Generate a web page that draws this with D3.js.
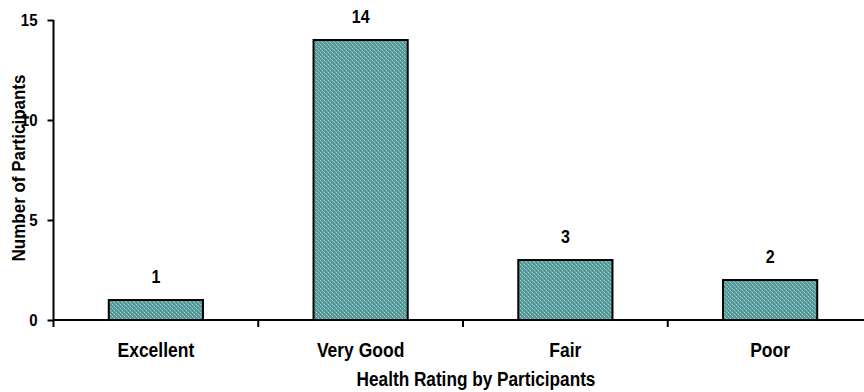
<!DOCTYPE html>
<html>
<head>
<meta charset="utf-8">
<script src="https://cdn.jsdelivr.net/npm/d3@7"></script>
<style>
  html, body { margin: 0; padding: 0; background: #fff; }
  svg { display: block; }
  svg text { font-family: "Liberation Sans", Arial, sans-serif; font-weight: bold; fill: #000; }
</style>
</head>
<body>
<svg id="chart" width="864" height="392"></svg>
<script>
// Health self-ratings and participant counts
const categories = ["Excellent", "Very Good", "Fair", "Poor"];
const counts = [1, 14, 3, 2];
const yTicks = [0, 5, 10, 15];

const svg = d3.select("#chart");
const plotLeft = 53.5, plotRight = 872.5, plotTop = 20, plotBottom = 320;
// Lettering is slightly taller than it is wide
const stretch = 1.13;

// Dithered teal fill for the bars
const defs = svg.append("defs");
const pat = defs.append("pattern")
  .attr("id", "teal").attr("width", 4).attr("height", 4)
  .attr("patternUnits", "userSpaceOnUse");
pat.append("rect").attr("width", 4).attr("height", 4).attr("fill", "#55999a");
pat.append("rect").attr("x", 0).attr("y", 0).attr("width", 1).attr("height", 1).attr("fill", "#a6d0cc");
pat.append("rect").attr("x", 2).attr("y", 2).attr("width", 1).attr("height", 1).attr("fill", "#a6d0cc");
pat.append("rect").attr("x", 1).attr("y", 1).attr("width", 1).attr("height", 1).attr("fill", "#7db7b4");
pat.append("rect").attr("x", 3).attr("y", 3).attr("width", 1).attr("height", 1).attr("fill", "#7db7b4");

const x = d3.scaleBand().domain(categories).range([plotLeft, plotRight])
  .paddingInner(0.54).paddingOuter(0.27);
const y = d3.scaleLinear().domain([0, 15]).range([plotBottom, plotTop]);

// Bars
svg.append("g").selectAll("rect").data(counts).join("rect")
  .attr("x", (d, i) => x(categories[i]))
  .attr("y", d => y(d))
  .attr("width", x.bandwidth())
  .attr("height", d => y(0) - y(d))
  .attr("fill", "url(#teal)")
  .attr("stroke", "#000").attr("stroke-width", 2);

// Value labels
svg.append("g").selectAll("text").data(counts).join("text")
  .attr("transform", (d, i) =>
    `translate(${x(categories[i]) + x.bandwidth() / 2},${y(d) - 17}) scale(1,${stretch})`)
  .attr("text-anchor", "middle")
  .attr("font-size", 16)
  .text(d => d);

// Y axis
const yAxis = svg.append("g").attr("transform", `translate(${plotLeft},0)`)
  .call(d3.axisLeft(y).tickValues(yTicks).tickSize(6).tickPadding(10).tickFormat(d3.format("d")));
yAxis.attr("font-family", null).attr("font-size", null);
yAxis.select(".domain").remove();
yAxis.append("line").attr("x1", 0).attr("x2", 0).attr("y1", plotTop).attr("y2", plotBottom + 7)
  .attr("stroke", "#000").attr("stroke-width", 2);
yAxis.selectAll(".tick line").attr("stroke", "#000").attr("stroke-width", 2);
yAxis.selectAll(".tick text")
  .attr("font-size", 15)
  .attr("transform", `scale(1,${stretch})`);

// X axis: baseline with ticks at category boundaries
const step = x.step();
const bounds = categories.slice(1).map(c => x(c) - step * x.paddingInner() / 2);
svg.append("line").attr("x1", plotLeft).attr("x2", 864).attr("y1", plotBottom).attr("y2", plotBottom)
  .attr("stroke", "#000").attr("stroke-width", 2);
svg.append("g").selectAll("line").data(bounds).join("line")
  .attr("x1", d => d).attr("x2", d => d).attr("y1", plotBottom).attr("y2", plotBottom + 7)
  .attr("stroke", "#000").attr("stroke-width", 2);

// Category labels
svg.append("g").selectAll("text").data(categories).join("text")
  .attr("transform", d => `translate(${x(d) + x.bandwidth() / 2},357) scale(1,${stretch})`)
  .attr("text-anchor", "middle")
  .attr("font-size", 17.5)
  .text(d => d);

// Axis titles
svg.append("text")
  .attr("transform", `translate(476,386) scale(1,${stretch})`)
  .attr("text-anchor", "middle").attr("font-size", 17.2)
  .text("Health Rating by Participants");
svg.append("text")
  .attr("transform", `translate(25,168) rotate(-90) scale(1,${stretch})`)
  .attr("text-anchor", "middle").attr("font-size", 17)
  .text("Number of Participants");
</script>
</body>
</html>
